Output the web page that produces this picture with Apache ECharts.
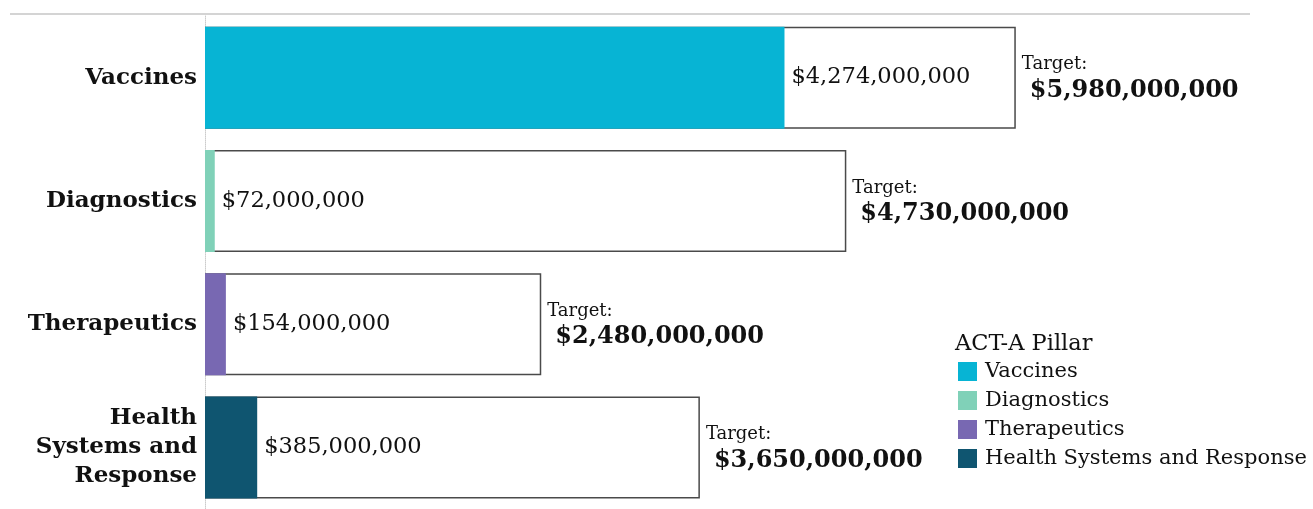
<!DOCTYPE html>
<html><head><meta charset="utf-8">
<script src="https://cdn.jsdelivr.net/npm/echarts@6/dist/echarts.min.js"></script>
<style>html,body{margin:0;padding:0;background:#fff}#c{width:1313px;height:509px}</style>
</head><body><div id="c"></div>
<script>
const categories = ['Vaccines', 'Diagnostics', 'Therapeutics', 'Health Systems and Response'];
const funded = [4274000000, 72000000, 154000000, 385000000];
const targets = [5980000000, 4730000000, 2480000000, 3650000000];
const pillarColors = ['#07B4D4', '#80D1B8', '#7868B2', '#0F5570'];
const legendTitle = 'ACT-A Pillar';

const FONT = 'DejaVu Serif';
const fmt = v => '$' + Number(v).toLocaleString('en-US');
const axisNames = {'Health Systems and Response': 'Health\nSystems and\nResponse'};

const chart = echarts.init(document.getElementById('c'));
const series = [{
  name: 'Target', type: 'bar', barWidth: 102, barGap: '-100%', silent: true,
  data: targets,
  itemStyle: {color: '#fff', borderColor: '#4a4a4a', borderWidth: 1.5},
  label: {
    show: true, position: 'right', distance: 6, align: 'left',
    formatter: p => '{a|Target:}\n{b|' + fmt(p.value) + '}',
    rich: {
      a: {fontFamily: FONT, fontSize: 18, color: '#111', lineHeight: 26},
      b: {fontFamily: FONT, fontSize: 24, fontWeight: 'bold', color: '#111', lineHeight: 26,
        padding: [0, 0, 0, 8]}
    }
  },
  z: 1
}];
categories.forEach((c, i) => {
  series.push({
    name: c, type: 'bar', barWidth: 102, barGap: '-100%',
    data: categories.map((_, j) => j === i ? funded[i] : null),
    itemStyle: {color: pillarColors[i]},
    label: {show: true, position: 'right', distance: 7, formatter: p => fmt(p.value),
      fontFamily: FONT, fontSize: 22.5, color: '#111'},
    z: 2
  });
});

chart.setOption({
  animation: false,
  title: {text: legendTitle, left: 950, top: 328,
    textStyle: {fontFamily: FONT, fontSize: 22.5, fontWeight: 'normal', color: '#111'}},
  legend: {
    data: categories, orient: 'vertical', left: 953, top: 356,
    itemWidth: 19, itemHeight: 19, itemGap: 8, icon: 'rect',
    textStyle: {fontFamily: FONT, fontSize: 21, color: '#111', padding: [0, 0, 0, 3]}
  },
  grid: {left: 205, top: 16, height: 500, right: 64, containLabel: false},
  xAxis: {type: 'value', min: 0, max: 7700000000, show: false},
  yAxis: {
    type: 'category', data: categories, inverse: true,
    axisLine: {show: true, lineStyle: {color: '#ccc', type: 'dotted', width: 1}},
    axisTick: {show: false},
    axisLabel: {fontFamily: FONT, fontSize: 23, fontWeight: 'bold', color: '#111', margin: 8,
      lineHeight: 29, formatter: v => axisNames[v] || v}
  },
  graphic: [{type: 'line', shape: {x1: 10, y1: 14, x2: 1250, y2: 14},
    style: {stroke: '#d4d4d4', lineWidth: 2}}],
  series: series
});
</script></body></html>
